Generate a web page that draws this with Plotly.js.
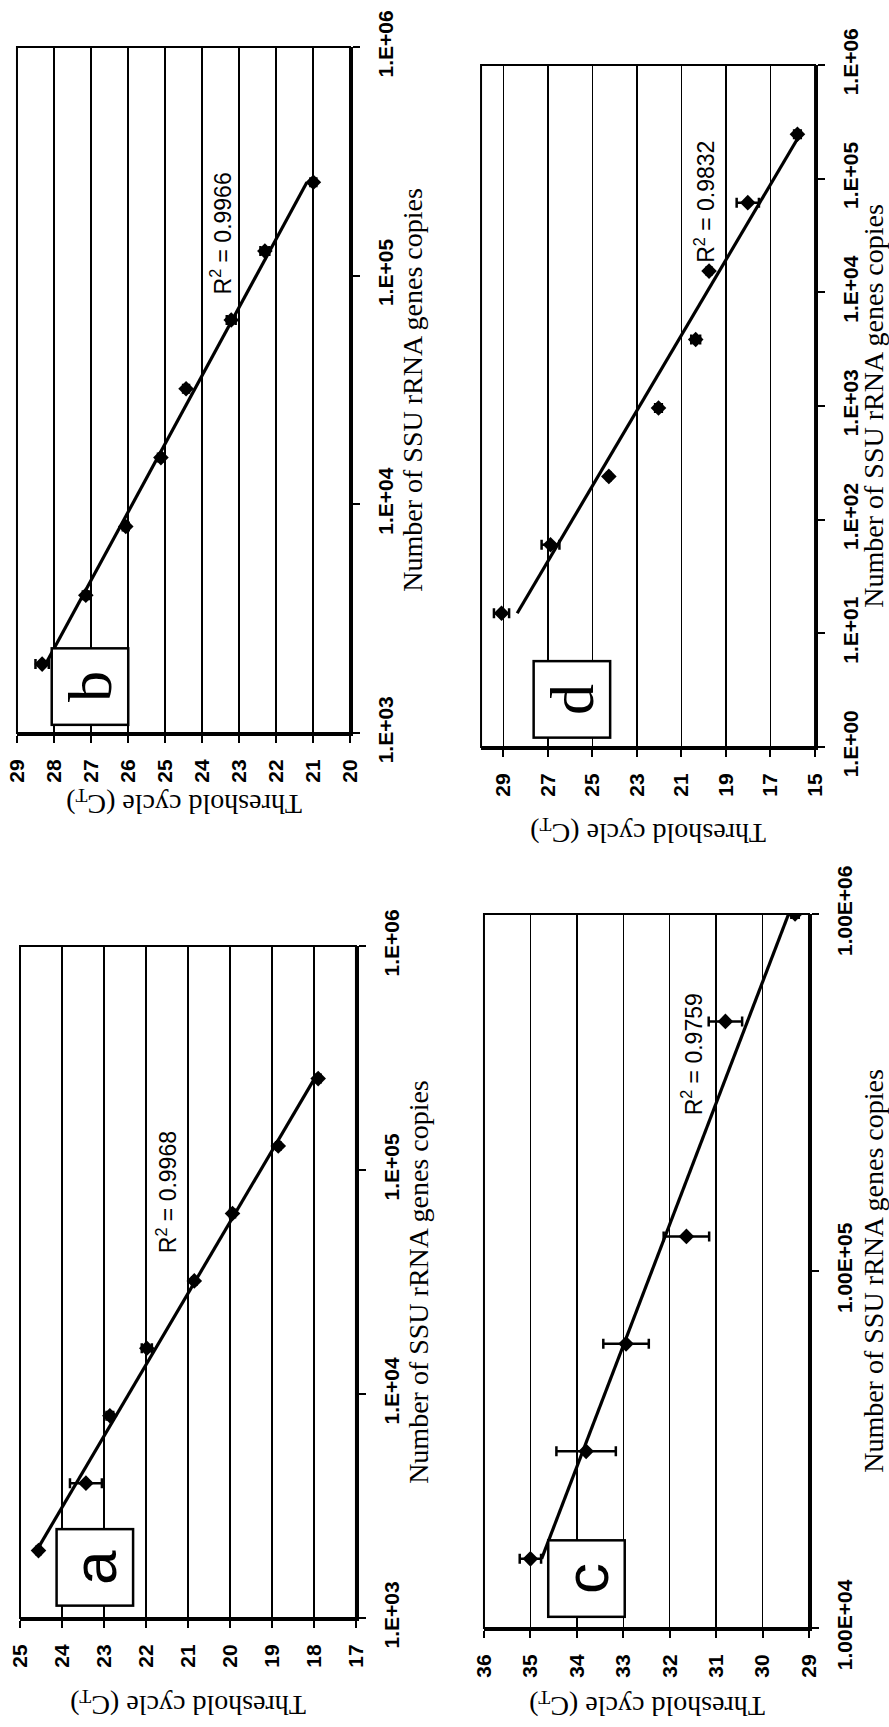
<!DOCTYPE html>
<html><head><meta charset="utf-8">
<script src="https://cdn.plot.ly/plotly-3.0.1.min.js"></script>
<style>
html,body{margin:0;padding:0;background:#fff;}
#chart{width:889px;height:1727px;}
</style></head><body><div id="chart"></div>
<script>
// Panel a
const copiesA = [2000, 4000, 8000, 16000, 32000, 64000, 128000, 256000];
const ctA = [24.56, 23.43, 22.86, 21.98, 20.85, 19.94, 18.85, 17.90];
const errA = [0.05, 0.38, 0.08, 0.12, 0.05, 0.06, 0.05, 0.06];
// Panel b
const copiesB = [2000, 4000, 8000, 16000, 32000, 64000, 128000, 256000];
const ctB = [28.32, 27.14, 26.06, 25.11, 24.43, 23.21, 22.30, 20.99];
const errB = [0.18, 0.08, 0.08, 0.08, 0.08, 0.12, 0.12, 0.08];
// Panel c
const copiesC = [15625, 31250, 62500, 125000, 500000, 1000000];
const ctC = [35.00, 33.80, 32.94, 31.64, 30.80, 29.30];
const errC = [0.23, 0.64, 0.49, 0.49, 0.36, 0.08];
// Panel d
const copiesD = [15, 60, 240, 960, 3840, 15360, 61440, 245760];
const ctD = [29.08, 26.88, 24.26, 22.03, 20.36, 19.76, 18.02, 15.79];
const errD = [0.34, 0.40, 0.08, 0.15, 0.20, 0.10, 0.50, 0.15];

const r2Text = ['R<sup>2</sup> = 0.9968', 'R<sup>2</sup> = 0.9966', 'R<sup>2</sup> = 0.9759', 'R<sup>2</sup> = 0.9832'];
const letters = ['a', 'b', 'c', 'd'];
const copyTickValsAB = [1e3, 1e4, 1e5, 1e6];
const copyTickTextAB = ['1.E+03', '1.E+04', '1.E+05', '1.E+06'];
const copyTickValsC = [1e4, 1e5, 1e6];
const copyTickTextC = ['1.00E+04', '1.00E+05', '1.00E+06'];
const copyTickValsD = [1e0, 1e1, 1e2, 1e3, 1e4, 1e5, 1e6];
const copyTickTextD = ['1.E+00', '1.E+01', '1.E+02', '1.E+03', '1.E+04', '1.E+05', '1.E+06'];
const ctTicksA = [17, 18, 19, 20, 21, 22, 23, 24, 25];
const ctTicksB = [20, 21, 22, 23, 24, 25, 26, 27, 28, 29];
const ctTicksC = [29, 30, 31, 32, 33, 34, 35, 36];
const ctTicksD = [15, 17, 19, 21, 23, 25, 27, 29];
const copiesTitle = 'Number of SSU rRNA genes copies';
const ctTitle = 'Threshold cycle (C<sub>T</sub>)';

function fitLine(xs, ys) {
  const lx = xs.map(v => Math.log10(v));
  const n = lx.length;
  const mx = lx.reduce((s, v) => s + v, 0) / n;
  const my = ys.reduce((s, v) => s + v, 0) / n;
  let sxy = 0, sxx = 0;
  for (let i = 0; i < n; i++) { sxy += (lx[i] - mx) * (ys[i] - my); sxx += (lx[i] - mx) ** 2; }
  const b = sxy / sxx, a = my - b * mx;
  const x0 = Math.min(...xs), x1 = Math.max(...xs);
  return { copies: [x0, x1], ct: [a + b * Math.log10(x0), a + b * Math.log10(x1)] };
}

// the figure is shown turned a quarter turn: Ct runs horizontally, copies vertically
const panels = [
  { copies: copiesA, ct: ctA, err: errA, xa: 'x', ya: 'y' },
  { copies: copiesB, ct: ctB, err: errB, xa: 'x2', ya: 'y2' },
  { copies: copiesC, ct: ctC, err: errC, xa: 'x3', ya: 'y3' },
  { copies: copiesD, ct: ctD, err: errD, xa: 'x4', ya: 'y4' }
];

const traces = [];
panels.forEach(p => {
  const f = fitLine(p.copies, p.ct);
  traces.push({ x: f.ct, y: f.copies, xaxis: p.xa, yaxis: p.ya, mode: 'lines', type: 'scatter',
    line: { color: '#000', width: 3.2 }, hoverinfo: 'skip' });
  traces.push({ x: p.ct, y: p.copies, xaxis: p.xa, yaxis: p.ya, mode: 'markers', type: 'scatter',
    marker: { symbol: 'diamond', size: 12, color: '#000' },
    error_x: { type: 'data', array: p.err, visible: true, color: '#000', thickness: 2.5, width: 5 } });
});

const sansFamily = 'Liberation Sans, Arial, sans-serif';
const serifFamily = 'Liberation Serif, Times New Roman, serif';
const tickFont = { family: sansFamily, size: 21, color: '#000', weight: 'bold' };
const titleFont = { family: serifFamily, size: 28, color: '#000', weight: 'normal' };
const r2Font = { family: sansFamily, size: 23, color: '#000', weight: 'normal' };

function ctAxis(domain, range, vals) {
  return { domain: domain, range: range, tickvals: vals, ticktext: vals.map(String),
    showgrid: true, gridcolor: '#000', gridwidth: 1.5, zeroline: false,
    showline: true, linecolor: '#000', linewidth: 3, side: 'bottom',
    ticks: 'outside', ticklen: 7, tickwidth: 2, tickcolor: '#000', tickfont: tickFont,
    tickangle: -90, ticklabelstandoff: 8, automargin: false };
}
function copiesAxis(domain, range, vals, text, standoff) {
  return { domain: domain, type: 'log', range: range, tickvals: vals, ticktext: text,
    showgrid: false, zeroline: false, showline: true, linecolor: '#000', linewidth: 3,
    side: 'right', ticks: 'outside', ticklen: 7, tickwidth: 2, tickcolor: '#000', tickfont: tickFont,
    tickangle: -90, ticklabelstandoff: 8, automargin: false,
    title: { text: copiesTitle, font: titleFont, standoff: standoff } };
}

const layout = {
  width: 889, height: 1727, margin: { l: 0, r: 0, t: 0, b: 0 },
  font: { family: sansFamily, size: 21, color: '#000' },
  paper_bgcolor: '#fff', plot_bgcolor: '#fff', showlegend: false,
  xaxis: Object.assign(ctAxis([0.0225, 0.4004], [25, 17], ctTicksA), { anchor: 'y' }),
  yaxis: Object.assign(copiesAxis([0.0631, 0.4522], [3, 6], copyTickValsAB, copyTickTextAB, 5), { anchor: 'x' }),
  xaxis2: Object.assign(ctAxis([0.0191, 0.3937], [29, 20], ctTicksB), { anchor: 'y2' }),
  yaxis2: Object.assign(copiesAxis([0.5756, 0.9728], [3, 6], copyTickValsAB, copyTickTextAB, 3), { anchor: 'x2' }),
  xaxis3: Object.assign(ctAxis([0.5444, 0.9100], [36, 29], ctTicksC), { anchor: 'y3' }),
  yaxis3: Object.assign(copiesAxis([0.0573, 0.4708], [4, 6], copyTickValsC, copyTickTextC, 20), { anchor: 'x3' }),
  xaxis4: Object.assign(ctAxis([0.5411, 0.9168], [30, 15], ctTicksD), { anchor: 'y4' }),
  yaxis4: Object.assign(copiesAxis([0.5675, 0.9624], [0, 6], copyTickValsD, copyTickTextD, 5), { anchor: 'x4' }),
  shapes: [], annotations: []
};

const axIds = [['x', 'y'], ['x2', 'y2'], ['x3', 'y3'], ['x4', 'y4']];
const r2Pos = [[21.5, 4.62], [23.48, 4.91], [31.5, 5.43], [19.95, 4.24]];
const boxPos = [[0.106, 0.016], [0.10, 0.0104], [0.194, 0.014], [0.153, 0.012]];
const ctTitleY = [0.0139, 0.535, 0.0127, 0.5182];
const letterFamilies = [sansFamily, serifFamily, sansFamily, serifFamily];
axIds.forEach((ids, i) => {
  layout.shapes.push({ type: 'rect', xref: ids[0] + ' domain', yref: ids[1] + ' domain',
    x0: 0, x1: 1, y0: 0, y1: 1, line: { color: '#000', width: 2 }, layer: 'above' });
  layout.annotations.push({ xref: ids[0], yref: ids[1], x: r2Pos[i][0], y: r2Pos[i][1],
    xanchor: 'center', yanchor: 'bottom', showarrow: false, text: r2Text[i], textangle: -90,
    font: r2Font });
  layout.annotations.push({ xref: ids[0] + ' domain', yref: ids[1] + ' domain',
    x: boxPos[i][0], y: boxPos[i][1], xanchor: 'left', yanchor: 'bottom', showarrow: false,
    text: letters[i], textangle: -90, width: 74, height: 74, borderpad: 0, borderwidth: 2.5,
    bordercolor: '#000', bgcolor: '#fff', align: 'center', valign: 'middle',
    font: { family: letterFamilies[i], size: 62, color: '#000', weight: 'normal' } });
  layout.annotations.push({ xref: ids[0] + ' domain', yref: 'paper', x: 0.5, y: ctTitleY[i],
    xanchor: 'center', yanchor: 'middle', showarrow: false, text: ctTitle, textangle: 180,
    font: titleFont });
});

Plotly.newPlot('chart', traces, layout, { staticPlot: true, displayModeBar: false });
</script></body></html>
